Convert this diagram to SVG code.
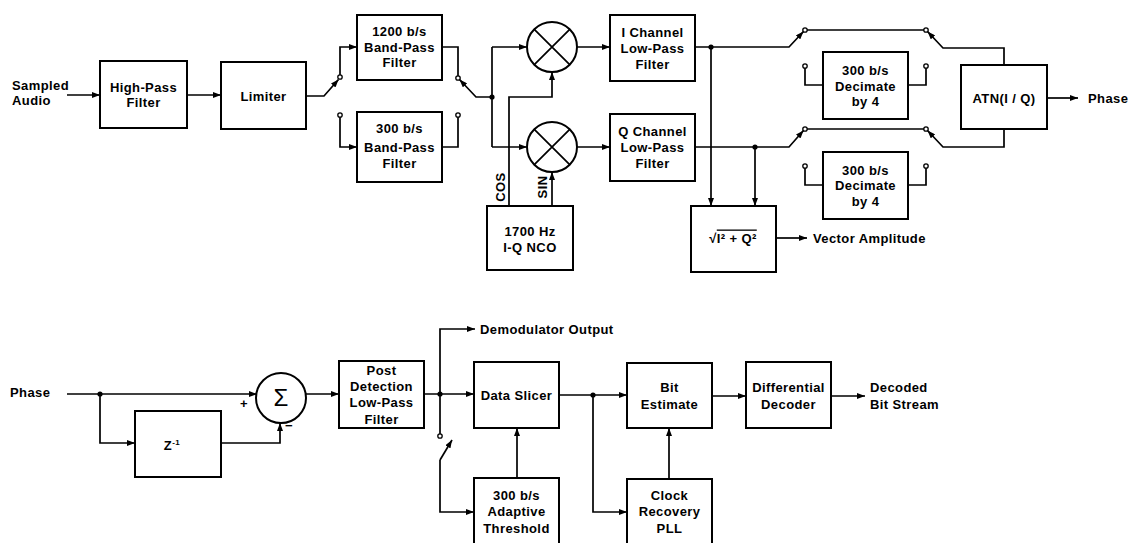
<svg xmlns="http://www.w3.org/2000/svg" width="1129" height="543" viewBox="0 0 1129 543">
<defs>
<style>
.bx{fill:#fff;stroke:#000;stroke-width:2}
.ln{fill:none;stroke:#000;stroke-width:1.7}
.ct{fill:#fff;stroke:#000;stroke-width:1.3}
.dot{fill:#000}
text{font-family:"Liberation Sans",Arial,sans-serif;font-weight:bold;font-size:13px;letter-spacing:0.4px;fill:#000;text-anchor:middle}
.l{text-anchor:start}
</style>
<marker id="ah" markerUnits="userSpaceOnUse" markerWidth="8" markerHeight="6" refX="8" refY="3" orient="auto">
<path d="M0,0 L8,3 L0,6 z" fill="#000"/>
</marker>
</defs>
<rect width="1129" height="543" fill="#fff"/>

<g id="connectors">
<!-- top chain -->
<line class="ln" x1="67" y1="95" x2="100" y2="95" marker-end="url(#ah)"/>
<line class="ln" x1="187" y1="95" x2="221" y2="95" marker-end="url(#ah)"/>
<polyline class="ln" points="306,96 324,96 338.5,79.5" marker-end="url(#ah)"/>
<polyline class="ln" points="340,75 340,47 357,47" marker-end="url(#ah)"/>
<polyline class="ln" points="340,117 340,147 357,147" marker-end="url(#ah)"/>
<polyline class="ln" points="442,47 458,47 458,76"/>
<polyline class="ln" points="442,147 458,147 458,117"/>
<polyline class="ln" points="492,97 476,97 459.5,79.5" marker-end="url(#ah)"/>
<line class="ln" x1="492" y1="47" x2="492" y2="147"/>
<line class="ln" x1="492" y1="47" x2="527" y2="47" marker-end="url(#ah)"/>
<line class="ln" x1="492" y1="147" x2="527" y2="147" marker-end="url(#ah)"/>
<polyline class="ln" points="509,206 509,97 552,97 552,72" marker-end="url(#ah)"/>
<line class="ln" x1="552" y1="206" x2="552" y2="172" marker-end="url(#ah)"/>
<line class="ln" x1="577" y1="47" x2="610" y2="47" marker-end="url(#ah)"/>
<line class="ln" x1="577" y1="147" x2="610" y2="147" marker-end="url(#ah)"/>
<!-- I path -->
<polyline class="ln" points="695,47 789,47 803.5,31.5" marker-end="url(#ah)"/>
<line class="ln" x1="711" y1="47" x2="711" y2="206" marker-end="url(#ah)"/>
<line class="ln" x1="807" y1="30" x2="924" y2="30"/>
<polyline class="ln" points="1004,65 1004,48 943,48 927.5,31.5" marker-end="url(#ah)"/>
<polyline class="ln" points="805,68 805,85 823,85"/>
<polyline class="ln" points="908,85 926,85 926,68"/>
<!-- Q path -->
<polyline class="ln" points="695,147 789,147 803.5,130.5" marker-end="url(#ah)"/>
<line class="ln" x1="755" y1="147" x2="755" y2="206" marker-end="url(#ah)"/>
<line class="ln" x1="807" y1="129" x2="924" y2="129"/>
<polyline class="ln" points="1004,129 1004,147 943,147 927.5,130.5" marker-end="url(#ah)"/>
<polyline class="ln" points="805,168 805,185 823,185"/>
<polyline class="ln" points="908,185 926,185 926,168"/>
<line class="ln" x1="1047" y1="98" x2="1078" y2="98" marker-end="url(#ah)"/>
<line class="ln" x1="776" y1="238" x2="807" y2="238" marker-end="url(#ah)"/>
<!-- bottom -->
<line class="ln" x1="67" y1="394" x2="257" y2="394" marker-end="url(#ah)"/>
<polyline class="ln" points="100,394 100,443 135,443" marker-end="url(#ah)"/>
<polyline class="ln" points="221,443 280,443 280,423" marker-end="url(#ah)"/>
<line class="ln" x1="306" y1="394" x2="339" y2="394" marker-end="url(#ah)"/>
<line class="ln" x1="424" y1="394" x2="474" y2="394" marker-end="url(#ah)"/>
<polyline class="ln" points="440,394 440,329 475,329" marker-end="url(#ah)"/>
<line class="ln" x1="440" y1="394" x2="440" y2="434"/>
<line class="ln" x1="440" y1="460" x2="452" y2="440" marker-end="url(#ah)"/>
<polyline class="ln" points="440,460 440,512 474,512" marker-end="url(#ah)"/>
<line class="ln" x1="517" y1="478" x2="517" y2="428" marker-end="url(#ah)"/>
<line class="ln" x1="559" y1="395" x2="627" y2="395" marker-end="url(#ah)"/>
<polyline class="ln" points="593,395 593,512 627,512" marker-end="url(#ah)"/>
<line class="ln" x1="669" y1="479" x2="669" y2="428" marker-end="url(#ah)"/>
<line class="ln" x1="712" y1="396" x2="746" y2="396" marker-end="url(#ah)"/>
<line class="ln" x1="831" y1="396" x2="865" y2="396" marker-end="url(#ah)"/>
<!-- junction dots -->
<circle class="dot" cx="492" cy="97" r="2.6"/>
<circle class="dot" cx="711" cy="47" r="2.6"/>
<circle class="dot" cx="755" cy="147" r="2.6"/>
<circle class="dot" cx="100" cy="394" r="2.6"/>
<circle class="dot" cx="440" cy="394" r="2.6"/>
<circle class="dot" cx="593" cy="395" r="2.6"/>
<!-- switch contacts -->
<circle class="ct" cx="340" cy="77" r="2.2"/>
<circle class="ct" cx="340" cy="115" r="2.2"/>
<circle class="ct" cx="458" cy="78" r="2.2"/>
<circle class="ct" cx="458" cy="115" r="2.2"/>
<circle class="ct" cx="805" cy="30" r="2.2"/>
<circle class="ct" cx="926" cy="30" r="2.2"/>
<circle class="ct" cx="805" cy="66" r="2.2"/>
<circle class="ct" cx="926" cy="66" r="2.2"/>
<circle class="ct" cx="805" cy="129" r="2.2"/>
<circle class="ct" cx="926" cy="129" r="2.2"/>
<circle class="ct" cx="805" cy="166" r="2.2"/>
<circle class="ct" cx="926" cy="166" r="2.2"/>
<circle class="ct" cx="440" cy="436" r="2.2"/>
</g>

<g id="labels">
<text class="l" x="12" y="89.5">Sampled</text>
<text class="l" x="12" y="105">Audio</text>
<text transform="rotate(-90 500 187)" x="500" y="191.6">COS</text>
<text transform="rotate(-90 542 187)" x="542" y="191.6">SIN</text>
<text class="l" x="813" y="242.5">Vector Amplitude</text>
<text class="l" x="1088" y="102.5">Phase</text>
<text class="l" x="10" y="396.5">Phase</text>
<text x="244" y="407.5">+</text>
<text x="289" y="429.5">−</text>
<text class="l" x="480" y="333.5">Demodulator Output</text>
<text class="l" x="870" y="392">Decoded</text>
<text class="l" x="870" y="408.5">Bit Stream</text>
</g>

<g id="hpf"><rect class="bx" x="100" y="61" width="87" height="67"/>
<text x="143.5" y="91.5">High-Pass</text><text x="143.5" y="107">Filter</text></g>
<g id="limiter"><rect class="bx" x="221" y="62" width="85" height="67"/>
<text x="263.5" y="101">Limiter</text></g>
<g id="bpf1200"><rect class="bx" x="357" y="15" width="85" height="65"/>
<text x="399.5" y="36">1200 b/s</text><text x="399.5" y="51.5">Band-Pass</text><text x="399.5" y="67">Filter</text></g>
<g id="bpf300"><rect class="bx" x="357" y="112" width="85" height="70"/>
<text x="399.5" y="133">300 b/s</text><text x="399.5" y="151.5">Band-Pass</text><text x="399.5" y="168">Filter</text></g>
<g id="mixI"><circle class="bx" cx="552" cy="47" r="25"/>
<path class="ln" d="M534.3,29.3 L569.7,64.7 M569.7,29.3 L534.3,64.7"/></g>
<g id="mixQ"><circle class="bx" cx="552" cy="147" r="25"/>
<path class="ln" d="M534.3,129.3 L569.7,164.7 M569.7,129.3 L534.3,164.7"/></g>
<g id="nco"><rect class="bx" x="487" y="206" width="86" height="64"/>
<text x="530" y="235.5">1700 Hz</text><text x="530" y="252">I-Q NCO</text></g>
<g id="ilpf"><rect class="bx" x="610" y="15" width="85" height="66"/>
<text x="652.5" y="37">I Channel</text><text x="652.5" y="52.5">Low-Pass</text><text x="652.5" y="68.5">Filter</text></g>
<g id="qlpf"><rect class="bx" x="610" y="114" width="85" height="67"/>
<text x="652.5" y="135.5">Q Channel</text><text x="652.5" y="151.5">Low-Pass</text><text x="652.5" y="168">Filter</text></g>
<g id="mag"><rect class="bx" x="691" y="206" width="85" height="66"/>
<text x="733" y="242.5">√<tspan text-decoration="overline">I² + Q²</tspan></text></g>
<g id="dec1"><rect class="bx" x="823" y="52" width="85" height="67"/>
<text x="865.5" y="74.5">300 b/s</text><text x="865.5" y="90.5">Decimate</text><text x="865.5" y="106">by 4</text></g>
<g id="dec2"><rect class="bx" x="823" y="152" width="85" height="67"/>
<text x="865.5" y="174.5">300 b/s</text><text x="865.5" y="190">Decimate</text><text x="865.5" y="206">by 4</text></g>
<g id="atn"><rect class="bx" x="961" y="65" width="86" height="64"/>
<text x="1004" y="102.5">ATN(I / Q)</text></g>

<g id="zdelay"><rect class="bx" x="135" y="411" width="86" height="66"/>
<text x="172" y="450">Z<tspan font-size="8" dy="-5">-1</tspan></text></g>
<g id="sum"><circle class="bx" cx="281" cy="398" r="25"/>
<text x="281" y="406" style="font-weight:normal;font-size:24px;letter-spacing:0">Σ</text></g>
<g id="pdlpf"><rect class="bx" x="339" y="361" width="85" height="67"/>
<text x="381.5" y="374.5">Post</text><text x="381.5" y="391">Detection</text><text x="381.5" y="407">Low-Pass</text><text x="381.5" y="423.5">Filter</text></g>
<g id="slicer"><rect class="bx" x="474" y="362" width="85" height="66"/>
<text x="516.5" y="399.5">Data Slicer</text></g>
<g id="threshold"><rect class="bx" x="474" y="478" width="85" height="70"/>
<text x="516.5" y="499.5">300 b/s</text><text x="516.5" y="516">Adaptive</text><text x="516.5" y="533">Threshold</text></g>
<g id="bitest"><rect class="bx" x="627" y="363" width="85" height="65"/>
<text x="669.5" y="392">Bit</text><text x="669.5" y="408.5">Estimate</text></g>
<g id="clock"><rect class="bx" x="627" y="479" width="85" height="70"/>
<text x="669.5" y="499.5">Clock</text><text x="669.5" y="516">Recovery</text><text x="669.5" y="532.5">PLL</text></g>
<g id="diffdec"><rect class="bx" x="746" y="362" width="85" height="66"/>
<text x="788.5" y="392">Differential</text><text x="788.5" y="409">Decoder</text></g>
</svg>
